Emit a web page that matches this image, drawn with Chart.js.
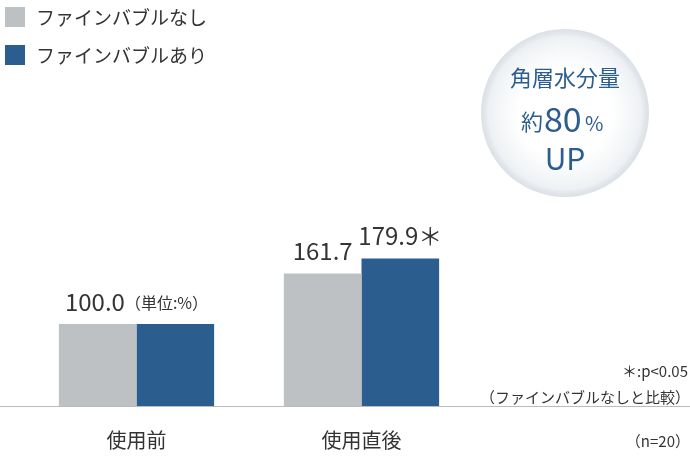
<!DOCTYPE html>
<html><head><meta charset="utf-8">
<script src="https://cdn.jsdelivr.net/npm/chart.js@4"></script>
<style>html,body{margin:0;padding:0;background:#fff}#w{width:690px;height:466px}</style>
</head><body><div id="w"><canvas id="c"></canvas></div>
<script>
const categories = ["使用前", "使用直後"];
const seriesNames = ["ファインバブルなし", "ファインバブルあり"];
const withoutBubble = [100.0, 161.7];
const withBubble = [100.0, 179.9];
const valueLabelsWithout = ["100.0", "161.7"];
const valueLabelsWith = ["", "179.9＊"];
const colors = ["#bdc1c4", "#2b5e8e"];
const F = '"Noto Sans CJK JP","Noto Sans",sans-serif';

const deco = {
  id: 'deco',
  beforeDatasetsDraw(chart) {
    const ctx = chart.ctx;
    const bx = 565, by = 113, r = 84;
    ctx.save();
    const g = ctx.createRadialGradient(bx, by, r * 0.55, bx, by, r);
    g.addColorStop(0, 'rgba(255,255,255,1)');
    g.addColorStop(0.8, 'rgba(238,241,244,1)');
    g.addColorStop(1, 'rgba(205,212,220,0.7)');
    ctx.fillStyle = g; ctx.beginPath(); ctx.arc(bx, by, r, 0, Math.PI * 2); ctx.fill();
    ctx.fillStyle = '#2b5e8e'; ctx.textBaseline = 'alphabetic'; ctx.textAlign = 'center';
    ctx.font = '22px ' + F; ctx.fillText('角層水分量', bx, 86);
    ctx.textAlign = 'right'; ctx.fillText('約', bx - 22, 130);
    ctx.textAlign = 'left'; ctx.font = '34px ' + F; ctx.fillText('80', bx - 21, 132);
    ctx.font = '20px ' + F; ctx.fillText('%', bx + 20, 131);
    ctx.textAlign = 'center'; ctx.font = '30px ' + F; ctx.fillText('UP', bx, 170);
    ctx.restore();
  },
  afterDraw(chart) {
    const ctx = chart.ctx;
    const y0 = chart.scales.y.getPixelForValue(0);
    ctx.save();
    ctx.strokeStyle = '#bbb'; ctx.lineWidth = 1;
    ctx.beginPath(); ctx.moveTo(0, y0 + 0.5); ctx.lineTo(690, y0 + 0.5); ctx.stroke();
    seriesNames.forEach((n, i) => {
      ctx.fillStyle = colors[i];
      ctx.fillRect(5, 7 + i * 38, 20, 20);
      ctx.fillStyle = '#333'; ctx.font = '19px ' + F; ctx.textBaseline = 'middle'; ctx.textAlign = 'left';
      ctx.fillText(n, 36, 18 + i * 38);
    });
    const m0 = chart.getDatasetMeta(0), m1 = chart.getDatasetMeta(1);
    ctx.textBaseline = 'alphabetic'; ctx.fillStyle = '#333';
    ctx.font = '24px ' + F; ctx.textAlign = 'left';
    const cx = (m0.data[0].x + m1.data[0].x) / 2;
    const t1 = valueLabelsWithout[0];
    const w1 = ctx.measureText(t1).width;
    ctx.font = '16px ' + F; const u = '（単位:%）'; const w2 = ctx.measureText(u).width;
    const sx = cx - (w1 + w2) / 2;
    ctx.font = '24px ' + F; ctx.fillText(t1, sx, m0.data[0].y - 13);
    ctx.font = '16px ' + F; ctx.fillText(u, sx + w1, m0.data[0].y - 15);
    ctx.font = '24px ' + F; ctx.textAlign = 'center';
    ctx.fillText(valueLabelsWithout[1], m0.data[1].x, m0.data[1].y - 13);
    ctx.fillText(valueLabelsWith[1], m1.data[1].x, m1.data[1].y - 13);
    ctx.font = '15px ' + F; ctx.textAlign = 'right';
    ctx.fillText('＊:p<0.05', 688, 377);
    ctx.fillText('（ファインバブルなしと比較）', 690, 403);
    ctx.fillText('（n=20）', 690, 447);
    ctx.restore();
  }
};

new Chart(document.getElementById('c'), {
  type: 'bar',
  data: {
    labels: categories,
    datasets: [
      { label: seriesNames[0], data: withoutBubble, backgroundColor: colors[0] },
      { label: seriesNames[1], data: withBubble, backgroundColor: colors[1] }
    ]
  },
  options: {
    responsive: true, maintainAspectRatio: false, animation: false,
    layout: { padding: { left: 24, right: 216, top: 242, bottom: 0 } },
    datasets: { bar: { categoryPercentage: 0.69, barPercentage: 1 } },
    plugins: { legend: { display: false }, tooltip: { enabled: false } },
    scales: {
      x: { grid: { display: false }, border: { display: false },
           ticks: { color: '#333', font: { size: 20, family: F }, padding: 14 } },
      y: { display: false, min: 0, max: 200 }
    }
  },
  plugins: [deco]
});
</script></body></html>
